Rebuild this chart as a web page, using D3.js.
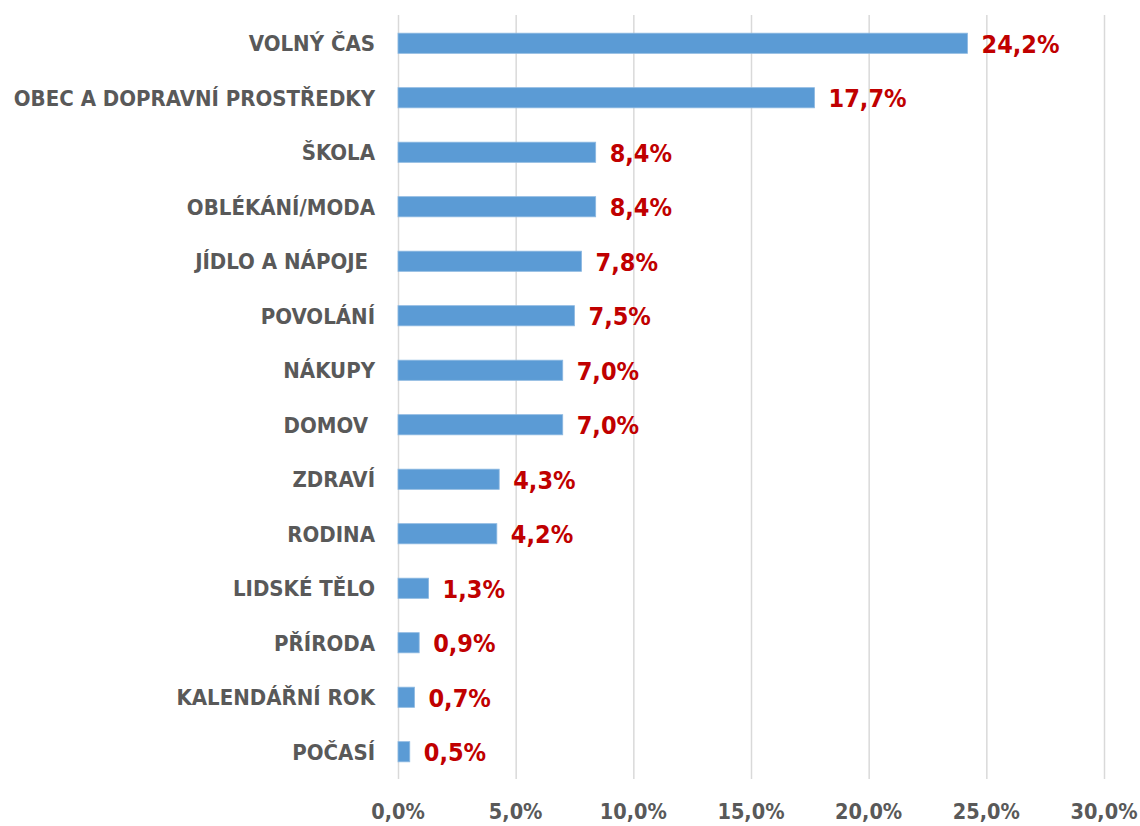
<!DOCTYPE html>
<html>
<head>
<meta charset="utf-8">
<script src="https://cdn.jsdelivr.net/npm/d3@7"></script>
<style>
  body { margin: 0; background: #fff; }
  text { white-space: pre; }
</style>
</head>
<body>
<svg id="vis"></svg>
<script>
// picture size
const width = 1140;
const height = 826;

// categories and shares (top to bottom)
const categories = ["VOLNÝ ČAS", "OBEC A DOPRAVNÍ PROSTŘEDKY", "ŠKOLA", "OBLÉKÁNÍ/MODA",
  "JÍDLO A NÁPOJE ", "POVOLÁNÍ", "NÁKUPY", "DOMOV ", "ZDRAVÍ", "RODINA",
  "LIDSKÉ TĚLO", "PŘÍRODA", "KALENDÁŘNÍ ROK", "POČASÍ"];
const values = [24.2, 17.7, 8.4, 8.4, 7.8, 7.5, 7.0, 7.0, 4.3, 4.2, 1.3, 0.9, 0.7, 0.5];
const ticks = [0, 5, 10, 15, 20, 25, 30];

const plot = {left: 398, right: 1104, top: 16, bottom: 779};
const font = "'DejaVu Sans Condensed', 'DejaVu Sans', sans-serif";

const fmt = v => v.toFixed(1).replace(".", ",") + "%";

const xScale = d3.scaleLinear()
    .domain([0, 30])
    .range([plot.left, plot.right]);

const yScale = d3.scaleBand()
    .domain(categories)
    .range([plot.top, plot.bottom])
    .paddingInner(0.63)
    .paddingOuter(0.315);

const svg = d3.select("#vis")
    .attr("width", width)
    .attr("height", height);

// vertical gridlines
svg.append("g")
  .selectAll("line")
  .data(ticks)
  .join("line")
    .attr("x1", d => xScale(d) + 0.5)
    .attr("x2", d => xScale(d) + 0.5)
    .attr("y1", 15)
    .attr("y2", plot.bottom)
    .attr("stroke", "#d9d9d9")
    .attr("stroke-width", 1.5);

// x axis labels
svg.append("g")
  .selectAll("text")
  .data(ticks)
  .join("text")
    .attr("x", d => xScale(d))
    .attr("y", 819)
    .attr("text-anchor", "middle")
    .attr("font-family", font)
    .attr("font-weight", "bold")
    .attr("font-size", 21.5)
    .attr("fill", "#595959")
    .text(d => fmt(d));

const data = categories.map((c, i) => ({cat: c, val: values[i]}));

// bars
svg.append("g")
  .selectAll("rect")
  .data(data)
  .join("rect")
    .attr("x", xScale(0))
    .attr("y", d => yScale(d.cat))
    .attr("width", d => xScale(d.val) - xScale(0))
    .attr("height", yScale.bandwidth())
    .attr("fill", "#5b9bd5")
    .attr("stroke", "#8db9e2")
    .attr("stroke-width", 0.8);

// category labels
svg.append("g")
  .selectAll("text")
  .data(data)
  .join("text")
    .attr("x", 375)
    .attr("y", d => yScale(d.cat) + yScale.bandwidth() / 2)
    .attr("dy", "0.36em")
    .attr("text-anchor", "end")
    .attr("font-family", font)
    .attr("font-weight", "bold")
    .attr("font-size", 22)
    .attr("fill", "#595959")
    .text(d => d.cat);

// value labels
svg.append("g")
  .selectAll("text")
  .data(data)
  .join("text")
    .attr("x", d => xScale(d.val) + 14)
    .attr("y", d => yScale(d.cat) + yScale.bandwidth() / 2)
    .attr("dy", "0.37em")
    .attr("font-family", font)
    .attr("font-weight", "bold")
    .attr("font-size", 25)
    .attr("fill", "#c00000")
    .text(d => fmt(d.val));
</script>
</body>
</html>
